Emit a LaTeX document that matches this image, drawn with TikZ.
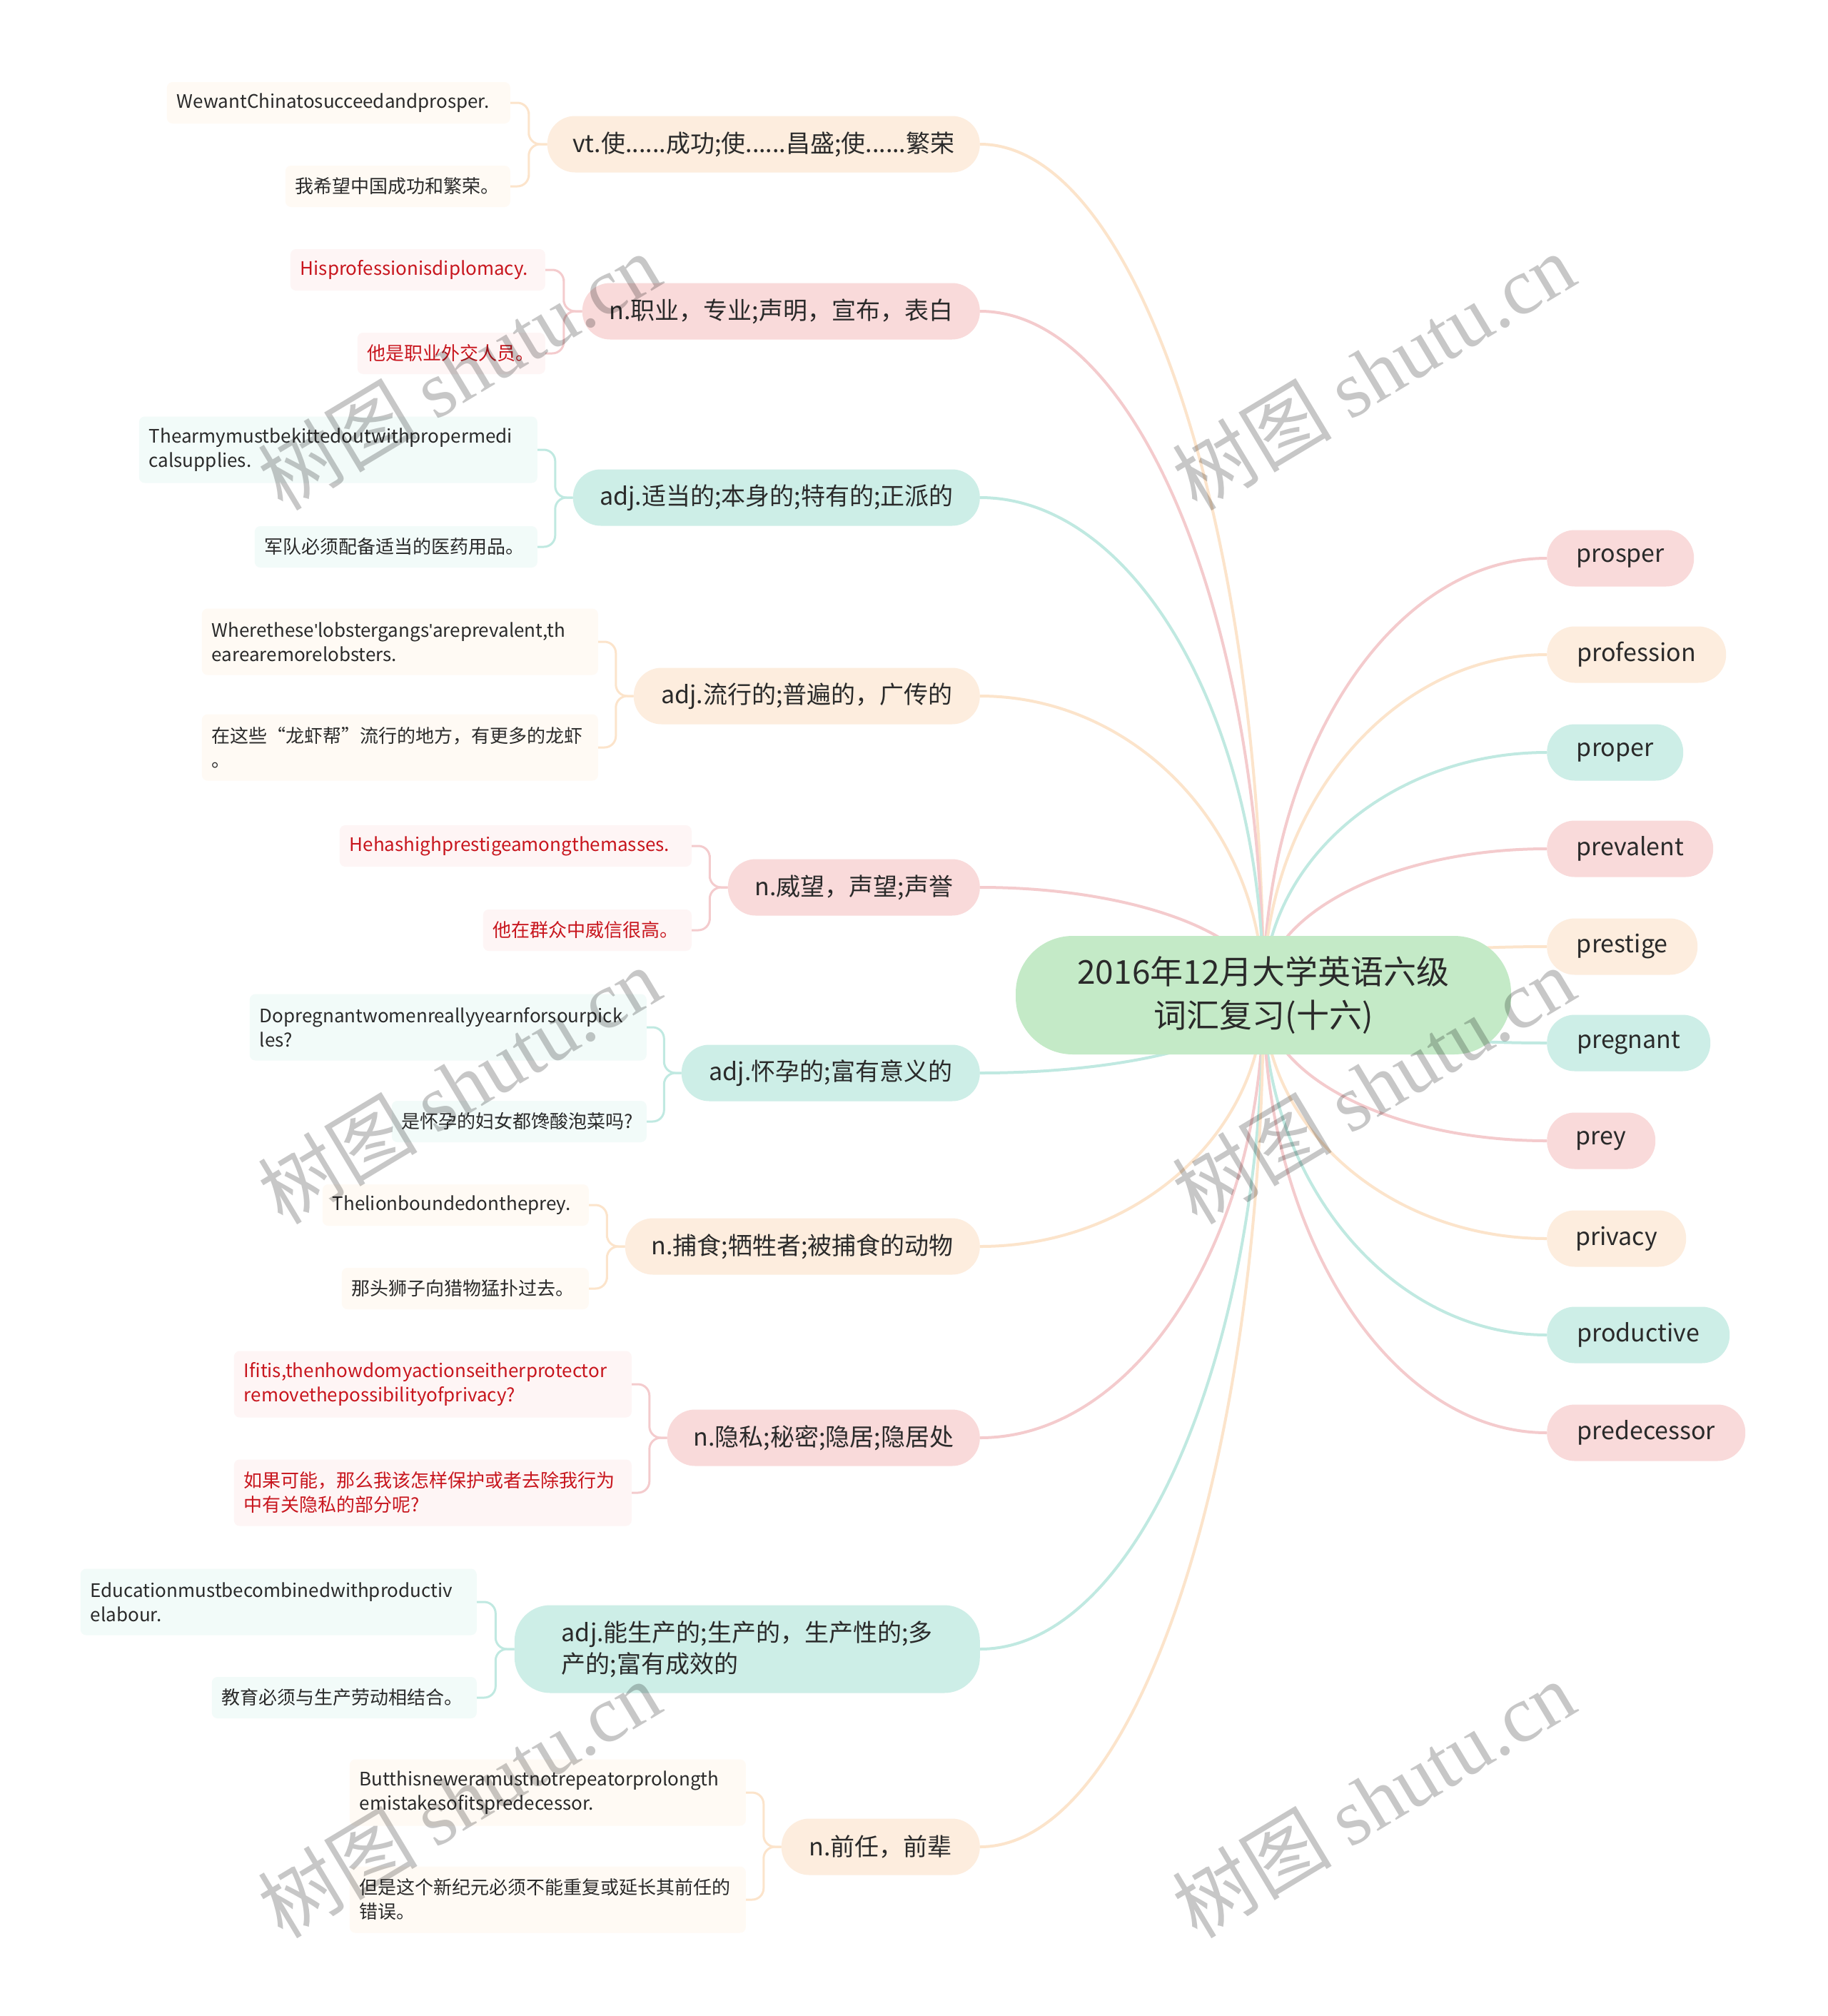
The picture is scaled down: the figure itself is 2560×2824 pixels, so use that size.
\documentclass[tikz,border=0pt]{standalone}
\usepackage{fontspec}
\setmainfont{Noto Sans CJK SC}
\newfontfamily\wmlatin{Liberation Serif}
\newfontfamily\aposfont{Liberation Sans}
\usetikzlibrary{calc,backgrounds}
\definecolor{pinkF}{HTML}{F9DADA}
\definecolor{peachF}{HTML}{FDEDDE}
\definecolor{tealF}{HTML}{CDEEE7}
\definecolor{pinkL}{HTML}{F4CBCD}
\definecolor{peachL}{HTML}{FCE4CB}
\definecolor{tealL}{HTML}{C0E9E1}
\definecolor{pinkE}{HTML}{FEF5F5}
\definecolor{peachE}{HTML}{FFFAF4}
\definecolor{tealE}{HTML}{F2FBF9}
\definecolor{centerF}{HTML}{C4EAC7}
\definecolor{txt}{HTML}{2A2A2A}
\definecolor{redtxt}{HTML}{C8161E}
\tikzset{
  meaning/.style={anchor=east, rounded corners=39pt, minimum height=79pt, inner xsep=18pt, inner ysep=0pt, font=\fontsize{34}{44}\selectfont, text=txt},
  word/.style={anchor=west, rounded corners=39pt, minimum height=79pt, inner xsep=18pt, inner ysep=0pt, font=\fontsize{34}{44}\selectfont, text=txt},
  ex/.style={anchor=east, rounded corners=8pt, minimum height=58pt, inner xsep=14pt, inner ysep=4pt, font=\fontsize{26}{34}\selectfont, text=txt, align=left},
  exx/.style={ex, minimum height=93pt},
  redt/.style={text=redtxt},
  pk/.style={fill=pinkF}, pc/.style={fill=peachF}, tl/.style={fill=tealF},
  pkE/.style={fill=pinkE}, pcE/.style={fill=peachE}, tlE/.style={fill=tealE},
  link/.style={line width=4pt},
  brace/.style={line width=3pt, rounded corners=16pt},
  wm/.style={rotate=31, text=black, opacity=0.22, font=\fontsize{112}{112}\selectfont},
}
\newcommand\hubline[2]{\draw[link,draw=#2] (C.center) .. controls ($(C.center)!0.55!(C.center|-#1)$) and ($(#1)!0.55!(C.center|-#1)$) .. (#1);}
\newcommand\brk[3]{\draw[brace,draw=#3] (#1.west) -| ($(#1.west)!0.5!(#2.east)$) |- (#2.east);}
\newcommand\apo{{\aposfont\char"0027}}
\begin{document}
\begin{tikzpicture}[x=1pt,y=-1pt]
\useasboundingbox (0,0) rectangle (2560,2824);
% central topic
\node[fill=centerF, rounded corners=80pt, minimum width=694pt, minimum height=166pt, font=\fontsize{46}{61}\selectfont, align=center, text=txt] (C) at (1770,1394) {2016年12月大学英语六级\\词汇复习(十六)};
% meanings (left)
\node[meaning, pc, minimum width=606pt] (m1) at (1373,202) {vt.使......成功;使......昌盛;使......繁荣};
\node[meaning, pk, minimum width=557pt] (m2) at (1373,436) {n.职业，专业;声明，宣布，表白};
\node[meaning, tl, minimum width=570pt] (m3) at (1373,697) {adj.适当的;本身的;特有的;正派的};
\node[meaning, pc, minimum width=485pt] (m4) at (1373,975) {adj.流行的;普遍的，广传的};
\node[meaning, pk, minimum width=353pt] (m5) at (1373,1243) {n.威望，声望;声誉};
\node[meaning, tl, minimum width=418pt] (m6) at (1373,1503) {adj.怀孕的;富有意义的};
\node[meaning, pc, minimum width=497pt] (m7) at (1373,1746) {n.捕食;牺牲者;被捕食的动物};
\node[meaning, pk, minimum width=438pt] (m8) at (1373,2014) {n.隐私;秘密;隐居;隐居处};
\node[meaning, tl, minimum width=652pt, minimum height=123pt, rounded corners=50pt, align=left] (m9) at (1373,2310) {adj.能生产的;生产的，生产性的;多\\产的;富有成效的};
\node[meaning, pc, minimum width=278pt] (m10) at (1373,2587) {n.前任，前辈};
% words (right)
\node[word, pk, minimum width=206pt] (w1) at (2167,782) {prosper};
\node[word, pc, minimum width=251pt] (w2) at (2167,917) {profession};
\node[word, tl, minimum width=191pt] (w3) at (2167,1054) {proper};
\node[word, pk, minimum width=233pt] (w4) at (2167,1189) {prevalent};
\node[word, pc, minimum width=211pt] (w5) at (2167,1326) {prestige};
\node[word, tl, minimum width=229pt] (w6) at (2167,1461) {pregnant};
\node[word, pk, minimum width=152pt] (w7) at (2167,1598) {prey};
\node[word, pc, minimum width=195pt] (w8) at (2167,1735) {privacy};
\node[word, tl, minimum width=256pt] (w9) at (2167,1870) {productive};
\node[word, pk, minimum width=278pt] (w10) at (2167,2007) {predecessor};
% examples
\node[ex, pcE, text width=453pt] (e1a) at (715,144) {WewantChinatosucceedandprosper.};
\node[ex, pcE, text width=287pt] (e1b) at (715,261) {我希望中国成功和繁荣。};
\node[ex, pkE, redt, text width=329pt] (e2a) at (764,378) {Hisprofessionisdiplomacy.};
\node[ex, pkE, redt, text width=235pt] (e2b) at (764,495) {他是职业外交人员。};
\node[exx, tlE, text width=530pt] (e3a) at (753,630) {Thearmymustbekittedoutwithpropermedi\\calsupplies.};
\node[ex, tlE, text width=368pt] (e3b) at (753,766) {军队必须配备适当的医药用品。};
\node[exx, pcE, text width=527pt] (e4a) at (838,899) {Wherethese\apo lobstergangs\apo areprevalent,th\\earearemorelobsters.};
\node[exx, pcE, text width=527pt] (e4b) at (838,1047) {在这些“龙虾帮”流行的地方，有更多的龙虾\\。};
\node[ex, pkE, redt, text width=465pt] (e5a) at (969,1185) {Hehashighprestigeamongthemasses.};
\node[ex, pkE, redt, text width=264pt] (e5b) at (969,1303) {他在群众中威信很高。};
\node[exx, tlE, text width=528pt] (e6a) at (906,1439) {Dopregnantwomenreallyyearnforsourpick\\les?};
\node[ex, tlE, text width=329pt] (e6b) at (906,1571) {是怀孕的妇女都馋酸泡菜吗?};
\node[ex, pcE, text width=345pt] (e7a) at (825,1688) {Thelionboundedontheprey.};
\node[ex, pcE, text width=318pt] (e7b) at (825,1805) {那头狮子向猎物猛扑过去。};
\node[exx, pkE, redt, text width=529pt] (e8a) at (885,1939) {Ifitis,thenhowdomyactionseitherprotector\\removethepossibilityofprivacy?};
\node[exx, pkE, redt, text width=529pt] (e8b) at (885,2091) {如果可能，那么我该怎样保护或者去除我行为\\中有关隐私的部分呢?};
\node[exx, tlE, text width=527pt] (e9a) at (668,2244) {Educationmustbecombinedwithproductiv\\elabour.};
\node[ex, tlE, text width=343pt] (e9b) at (668,2378) {教育必须与生产劳动相结合。};
\node[exx, pcE, text width=527pt] (e10a) at (1045,2511) {Butthisneweramustnotrepeatorprolongth\\emistakesofitspredecessor.};
\node[exx, pcE, text width=527pt] (e10b) at (1045,2661) {但是这个新纪元必须不能重复或延长其前任的\\错误。};
% connectors
\begin{scope}[on background layer]
\fill[white] (0,0) rectangle (2560,2824);
\hubline{m1.east}{peachL}
\hubline{m2.east}{pinkL}
\hubline{m3.east}{tealL}
\hubline{m4.east}{peachL}
\hubline{m5.east}{pinkL}
\hubline{m6.east}{tealL}
\hubline{m7.east}{peachL}
\hubline{m8.east}{pinkL}
\hubline{m9.east}{tealL}
\hubline{m10.east}{peachL}
\hubline{w1.west}{pinkL}
\hubline{w2.west}{peachL}
\hubline{w3.west}{tealL}
\hubline{w4.west}{pinkL}
\hubline{w5.west}{peachL}
\hubline{w6.west}{tealL}
\hubline{w7.west}{pinkL}
\hubline{w8.west}{peachL}
\hubline{w9.west}{tealL}
\hubline{w10.west}{pinkL}
\brk{m1}{e1a}{peachL}\brk{m1}{e1b}{peachL}
\brk{m2}{e2a}{pinkL}\brk{m2}{e2b}{pinkL}
\brk{m3}{e3a}{tealL}\brk{m3}{e3b}{tealL}
\brk{m4}{e4a}{peachL}\brk{m4}{e4b}{peachL}
\brk{m5}{e5a}{pinkL}\brk{m5}{e5b}{pinkL}
\brk{m6}{e6a}{tealL}\brk{m6}{e6b}{tealL}
\brk{m7}{e7a}{peachL}\brk{m7}{e7b}{peachL}
\brk{m8}{e8a}{pinkL}\brk{m8}{e8b}{pinkL}
\brk{m9}{e9a}{tealL}\brk{m9}{e9b}{tealL}
\brk{m10}{e10a}{peachL}\brk{m10}{e10b}{peachL}
\end{scope}
% watermarks
\node[wm] (wm1) at (643,520) {树图 {\wmlatin shutu.cn}};
\node[wm] (wm2) at (1924,520) {树图 {\wmlatin shutu.cn}};
\node[wm] (wm3) at (643,1520) {树图 {\wmlatin shutu.cn}};
\node[wm] (wm4) at (1924,1520) {树图 {\wmlatin shutu.cn}};
\node[wm] (wm5) at (643,2520) {树图 {\wmlatin shutu.cn}};
\node[wm] (wm6) at (1924,2520) {树图 {\wmlatin shutu.cn}};
\end{tikzpicture}
\end{document}
